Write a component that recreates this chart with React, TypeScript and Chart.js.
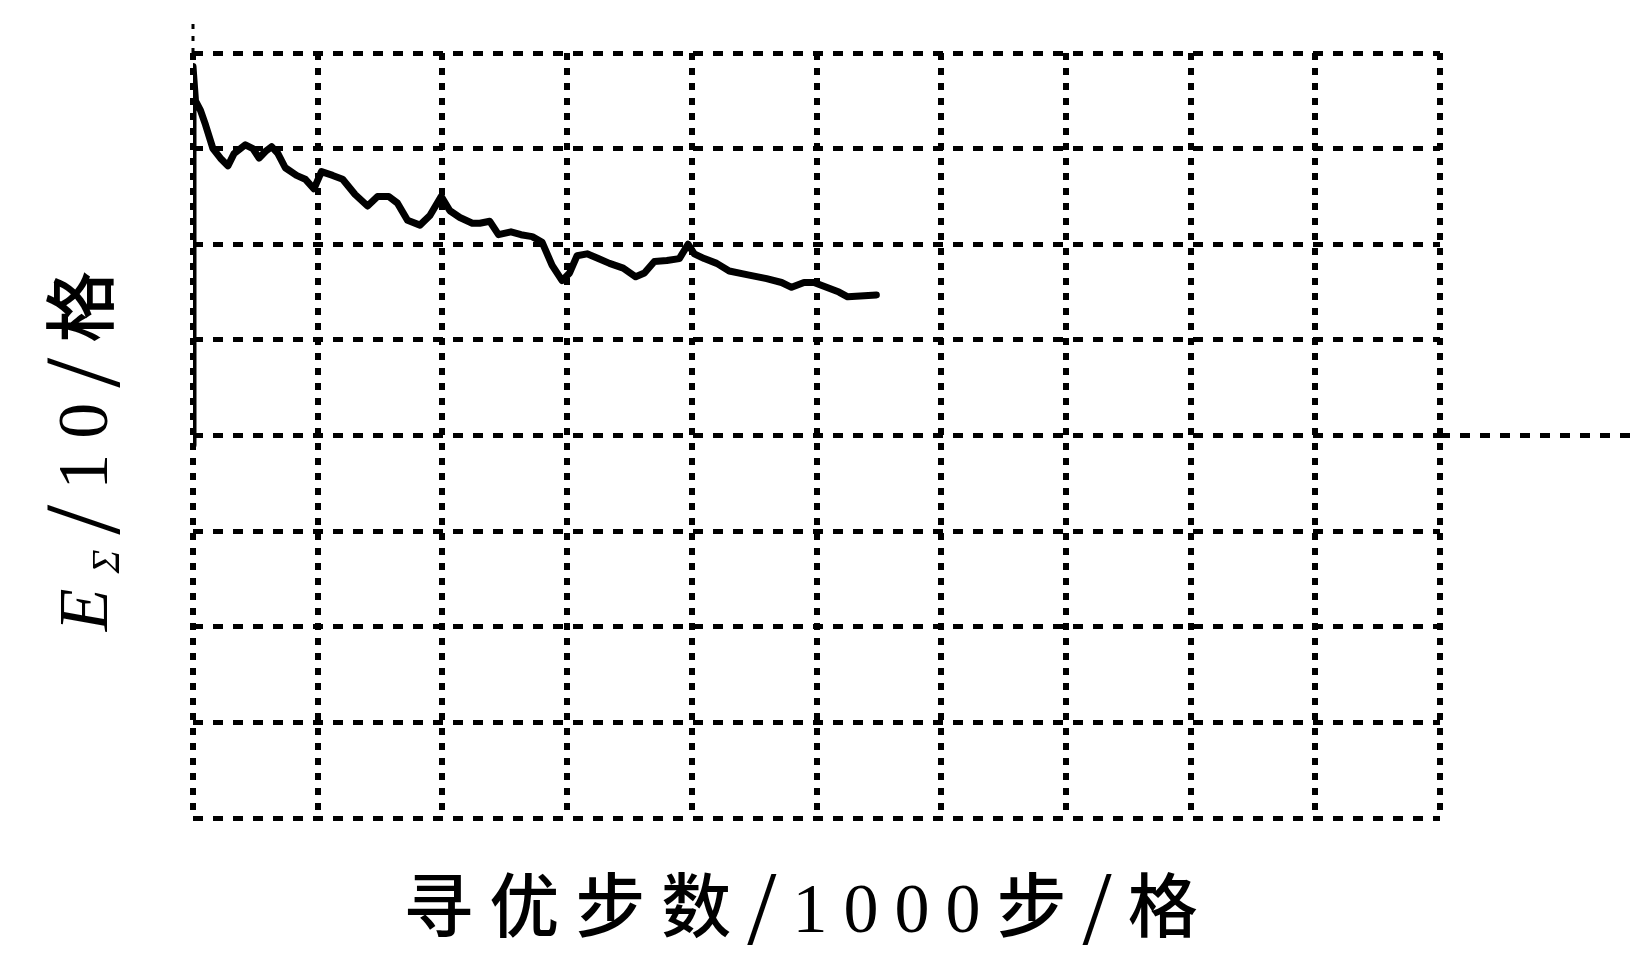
import React, { useEffect, useRef } from "react";
import { Chart, registerables } from "chart.js";

Chart.register(...registerables);

// search steps (1000 steps per grid cell)
const stepsX: number[] = [
  0, 0, 0.02, 0.06, 0.1, 0.16, 0.22, 0.28, 0.33, 0.42, 0.48, 0.53, 0.58, 0.63, 0.68, 0.74,
  0.83, 0.9, 0.97, 1.03, 1.12, 1.2, 1.3, 1.4, 1.48, 1.57, 1.64, 1.72, 1.82, 1.9, 1.99,
  2.06, 2.14, 2.24, 2.3, 2.38, 2.45, 2.55, 2.63, 2.72, 2.8, 2.88, 2.96, 3.02, 3.08, 3.16,
  3.25, 3.34, 3.45, 3.55, 3.62, 3.7, 3.8, 3.9, 3.97, 4.02, 4.1, 4.2, 4.3, 4.45, 4.6, 4.72,
  4.8, 4.9, 4.98, 5.08, 5.18, 5.25, 5.35, 5.48,
];
// E_Σ (10 per grid cell)
const energyY: number[] = [
  3.9, 7.86, 7.5, 7.4, 7.25, 7.0, 6.9, 6.82, 6.95, 7.04, 7.0, 6.9, 6.97, 7.02, 6.95, 6.8,
  6.72, 6.68, 6.58, 6.76, 6.72, 6.68, 6.52, 6.4, 6.5, 6.5, 6.43, 6.25, 6.2, 6.3, 6.5,
  6.35, 6.28, 6.22, 6.22, 6.24, 6.1, 6.13, 6.1, 6.08, 6.02, 5.78, 5.62, 5.7, 5.88, 5.9,
  5.85, 5.8, 5.75, 5.66, 5.7, 5.82, 5.83, 5.85, 6.0, 5.9, 5.85, 5.8, 5.72, 5.68, 5.64, 5.6,
  5.55, 5.6, 5.6, 5.55, 5.5, 5.45, 5.46, 5.47,
];

const xRange: number[] = [0, 10];
const yRange: number[] = [0, 8];
const extendedRowValue = 4;

const xTitle = "寻优步数/1000步/格";
const yTitleParts: string[] = ["E", "Σ", "/10/格"];

const SERIF = "'Liberation Serif', 'Noto Sans CJK SC', serif";
const CJK = "'Noto Sans CJK SC', 'Liberation Serif', serif";

type Part = { t: string; f: string; dy: number };

function segParts(text: string, size: number): Part[] {
  return text
    .split(/(\/|[0-9]+)/)
    .filter((s) => s.length > 0)
    .map((s) => {
      if (s === "/") return { t: s, f: `${Math.round(size * 1.5)}px ${SERIF}`, dy: 12 };
      if (/^[0-9]+$/.test(s)) return { t: s, f: `${size}px ${SERIF}`, dy: 0 };
      return { t: s, f: `500 ${size}px ${CJK}`, dy: 0 };
    });
}

function drawRich(ctx: CanvasRenderingContext2D, parts: Part[], cx: number, baseY: number) {
  let total = 0;
  const widths: number[] = [];
  for (const p of parts) {
    ctx.font = p.f;
    const w = ctx.measureText(p.t).width;
    widths.push(w);
    total += w;
  }
  let x = cx - total / 2;
  parts.forEach((p, i) => {
    ctx.font = p.f;
    ctx.fillText(p.t, x, baseY + p.dy);
    x += widths[i];
  });
}

const decorPlugin = {
  id: "decor",
  afterDraw(chart: any) {
    const { ctx, chartArea, scales, width } = chart;
    const yS = scales.y;
    ctx.save();
    ctx.strokeStyle = "#000";
    // left axis extension above plot
    ctx.lineWidth = 3;
    ctx.setLineDash([5, 7]);
    ctx.beginPath();
    ctx.moveTo(chartArea.left, chartArea.top);
    ctx.lineTo(chartArea.left, chartArea.top - 36);
    ctx.stroke();
    // horizontal row line extended to the right edge
    const py = yS.getPixelForValue(extendedRowValue);
    ctx.lineWidth = 5;
    ctx.setLineDash([10, 10]);
    ctx.beginPath();
    ctx.moveTo(chartArea.right, py);
    ctx.lineTo(width, py);
    ctx.stroke();
    ctx.setLineDash([]);

    ctx.fillStyle = "#000";
    ctx.textAlign = "left";
    ctx.textBaseline = "alphabetic";

    // x title
    (ctx as any).letterSpacing = "16px";
    drawRich(ctx, segParts(xTitle, 70), (chartArea.left + chartArea.right) / 2 - 8, chartArea.bottom + 114);

    // y title (rotated, with subscript)
    (ctx as any).letterSpacing = "15px";
    ctx.translate(chartArea.left - 112, (chartArea.top + chartArea.bottom) / 2 + 8);
    ctx.rotate(-Math.PI / 2);
    const yParts: Part[] = [
      { t: yTitleParts[0], f: `italic 70px ${SERIF}`, dy: 0 },
      { t: yTitleParts[1], f: `italic 40px ${SERIF}`, dy: 12 },
      ...segParts(yTitleParts[2], 72),
    ];
    drawRich(ctx, yParts, 0, 26);
    ctx.restore();
  },
};

export default function App() {
  const canvasRef = useRef<HTMLCanvasElement | null>(null);

  useEffect(() => {
    document.body.style.margin = "0";
    const canvas = canvasRef.current;
    if (!canvas) return;
    const data = stepsX.map((x, i) => ({ x, y: energyY[i] }));
    const chart = new Chart(canvas, {
      type: "line",
      data: {
        datasets: [
          {
            data,
            borderColor: "#000",
            borderWidth: 7,
            borderJoinStyle: "round",
            borderCapStyle: "round",
            pointRadius: 0,
            tension: 0,
            fill: false,
          },
        ],
      },
      options: {
        animation: false,
        responsive: false,
        maintainAspectRatio: false,
        layout: { padding: { left: 193, top: 53, right: 196, bottom: 141 } },
        plugins: { legend: { display: false }, tooltip: { enabled: false }, title: { display: false } },
        scales: {
          x: {
            type: "linear",
            min: xRange[0],
            max: xRange[1],
            ticks: { display: false, stepSize: 1 },
            grid: { color: "#000", lineWidth: 6, drawTicks: false, tickLength: 0 },
            border: { display: false, dash: [7, 8] },
          },
          y: {
            type: "linear",
            min: yRange[0],
            max: yRange[1],
            ticks: { display: false, stepSize: 1 },
            grid: { color: "#000", lineWidth: 5, drawTicks: false, tickLength: 0 },
            border: { display: false, dash: [10, 10] },
          },
        },
      },
      plugins: [decorPlugin],
    });
    return () => chart.destroy();
  }, []);

  return (
    <div style={{ width: 1636, height: 959, background: "#fff" }}>
      <canvas ref={canvasRef} width={1636} height={959} style={{ display: "block" }} />
    </div>
  );
}
